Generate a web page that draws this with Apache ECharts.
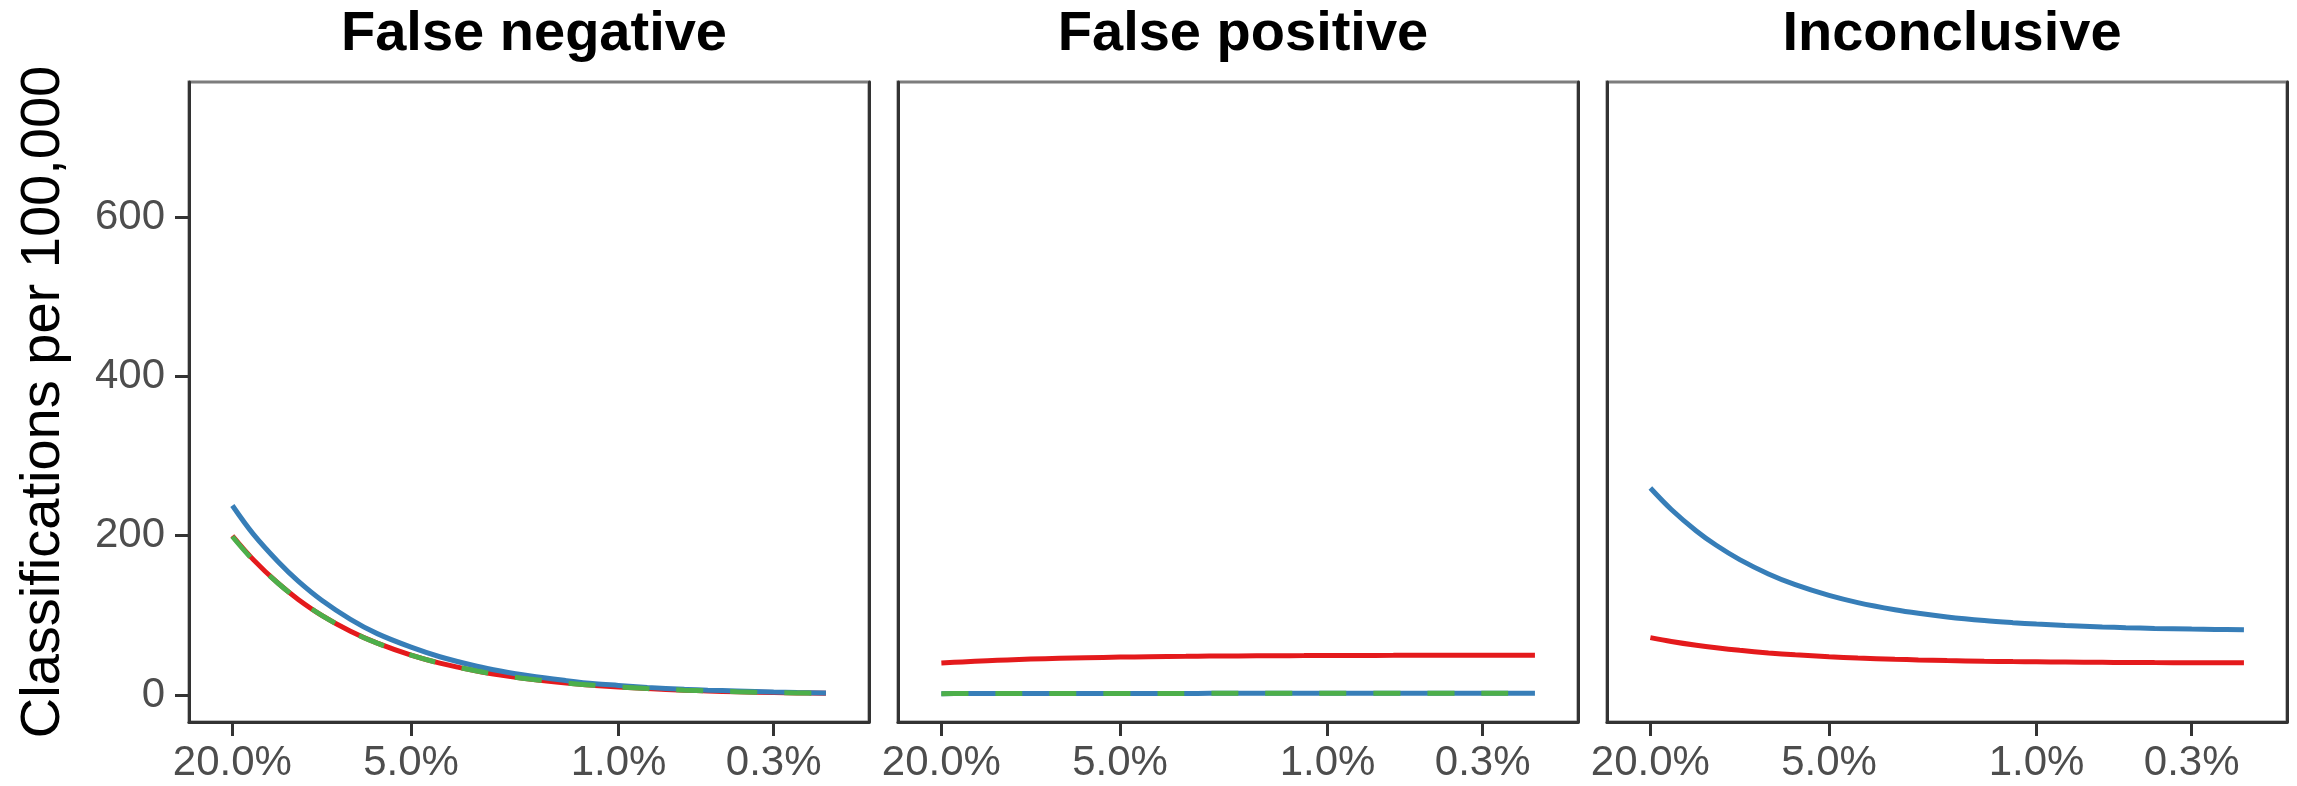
<!DOCTYPE html>
<html>
<head>
<meta charset="utf-8">
<style>
  html, body { margin: 0; padding: 0; background: #ffffff; }
  #chart { width: 2297px; height: 786px; }
</style>
<script src="https://cdn.jsdelivr.net/npm/echarts@6/dist/echarts.min.js"></script>
</head>
<body>
<div id="chart"></div>
<script>
// Prevalence (%) at which each outcome rate is evaluated
const prevalence = [20, 17, 14, 12, 10, 8, 6.5, 5, 4, 3, 2.5, 2, 1.5, 1.2, 1, 0.8, 0.6, 0.5, 0.4, 0.3, 0.25, 0.2];

// Panel names
const panelTitles = ['False negative', 'False positive', 'Inconclusive'];

// X tick positions (prevalence, %) and Y tick values
const xTicks = [20, 5, 1, 0.3];
const yTicks = [0, 200, 400, 600];

// False negative, per 100,000
const fnRed   = [200, 170, 140, 120, 100, 80, 65, 50, 40, 30, 25, 20, 15, 12, 10, 8, 6, 5, 4, 3, 2.5, 2];
const fnBlue  = [238, 202, 167, 143, 119, 95, 77, 60, 48, 36, 30, 24, 18, 14, 12, 9.5, 7, 6, 5, 3.6, 3, 2.4];
const fnGreen = [199, 169, 140, 120, 100, 80, 65, 50, 40, 30, 25, 20, 15, 12, 10, 8, 6, 5, 4, 3, 2.5, 2];

// False positive, per 100,000
const fpRed   = [40, 41.5, 43, 44, 45, 46, 46.8, 47.5, 48, 48.5, 48.8, 49, 49.3, 49.4, 49.5, 49.6, 49.7, 49.8, 49.8, 49.9, 49.9, 49.9];
const fpBlue  = [1.6, 1.7, 1.7, 1.8, 1.8, 1.8, 1.9, 1.9, 1.9, 1.9, 2, 2, 2, 2, 2, 2, 2, 2, 2, 2, 2, 2];
const fpGreen = [1.6, 1.7, 1.7, 1.8, 1.8, 1.8, 1.9, 1.9, 1.9, 1.9, 2, 2, 2, 2, 2, 2, 2, 2, 2, 2, 2, 2];

// Inconclusive, per 100,000
const incRed  = [72, 67.2, 62.4, 59.2, 56, 52.8, 50.4, 48, 46.4, 44.8, 44, 43.2, 42.4, 41.9, 41.6, 41.3, 41, 40.8, 40.6, 40.5, 40.4, 40.3];
const incBlue = [260, 233, 206, 188, 170, 152, 138.5, 125, 116, 107, 102.5, 98, 93.5, 90.8, 89, 87.2, 85.4, 84.5, 83.6, 82.7, 82.3, 81.8];

const RED = '#E41A1C', BLUE = '#377EB8', GREEN = '#4DAF4A';
const FONT = '"Liberation Sans", Arial, sans-serif';

const panels = [
  { left: 189, lines: [[fnRed, RED, false], [fnBlue, BLUE, false], [fnGreen, GREEN, true]] },
  { left: 898, lines: [[fpRed, RED, false], [fpBlue, BLUE, false], [fpGreen, GREEN, true]] },
  { left: 1607, lines: [[incRed, RED, false], [incBlue, BLUE, false]] }
];
const panelWidth = 680, panelTop = 82, panelHeight = 640;
const yMin = -34, yMax = 770;

const pairs = ys => prevalence.map((p, i) => [p, ys[i]]);
const darkLine = { color: '#333333', width: 3 };

const grid = [], xAxis = [], yAxis = [], series = [], title = [];
panels.forEach((pn, k) => {
  grid.push({
    left: pn.left, top: panelTop, width: panelWidth, height: panelHeight,
    show: true, borderColor: '#7d7d7d', borderWidth: 3, backgroundColor: '#ffffff'
  });
  title.push({
    text: panelTitles[k],
    left: pn.left + panelWidth / 2, top: 2, textAlign: 'center',
    textStyle: { fontFamily: FONT, fontSize: 56, fontWeight: 'bold', color: '#000000' }
  });
  xAxis.push({
    type: 'log', logBase: 10, gridIndex: k, inverse: true,
    min: 0.1432, max: 28.0,
    axisLine: { show: true, onZero: false, lineStyle: darkLine },
    axisTick: { show: true, length: 14, customValues: xTicks, lineStyle: darkLine },
    axisLabel: {
      show: true, customValues: xTicks, margin: 20,
      fontFamily: FONT, fontSize: 42, color: '#4d4d4d',
      formatter: v => Number(v).toFixed(1) + '%'
    },
    splitLine: { show: false }, minorSplitLine: { show: false }
  });
  // left axis with ticks and labels (first panel only)
  yAxis.push({
    type: 'value', gridIndex: k, min: yMin, max: yMax, position: 'left',
    name: k === 0 ? 'Classifications per 100,000' : '',
    nameLocation: 'middle', nameRotate: 90, nameGap: 117,
    nameTextStyle: { fontFamily: FONT, fontSize: 56, color: '#000000' },
    axisLine: { show: true, lineStyle: darkLine },
    axisTick: { show: k === 0, length: 14, customValues: yTicks, lineStyle: darkLine },
    axisLabel: {
      show: k === 0, customValues: yTicks, margin: 24,
      fontFamily: FONT, fontSize: 42, color: '#4d4d4d'
    },
    splitLine: { show: false }
  });
  // right-hand frame edge of the panel
  yAxis.push({
    type: 'value', gridIndex: k, min: yMin, max: yMax, position: 'right',
    axisLine: { show: true, lineStyle: darkLine },
    axisTick: { show: false }, axisLabel: { show: false }, splitLine: { show: false }
  });
  pn.lines.forEach(([ys, color, dashed]) => {
    series.push({
      type: 'line', xAxisIndex: k, yAxisIndex: 2 * k,
      data: pairs(ys), smooth: 0.35, showSymbol: false, silent: true,
      lineStyle: { color, width: 5, type: dashed ? [27, 27] : 'solid', cap: 'butt' },
      z: dashed ? 4 : 3
    });
  });
});

const chart = echarts.init(document.getElementById('chart'), null, { renderer: 'canvas' });
chart.setOption({
  animation: false,
  backgroundColor: '#ffffff',
  title, grid, xAxis, yAxis, series
});
</script>
</body>
</html>
